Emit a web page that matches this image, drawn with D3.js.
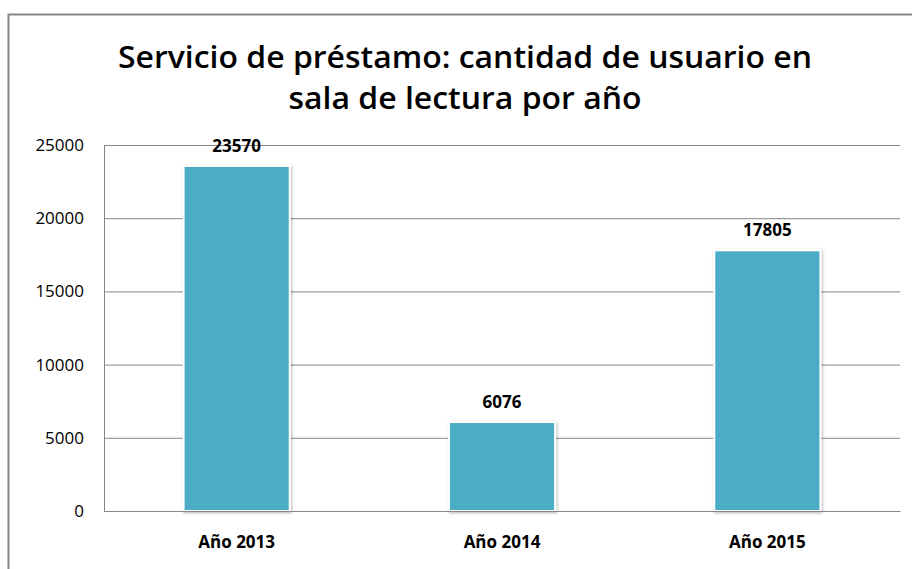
<!DOCTYPE html>
<html>
<head>
<meta charset="utf-8">
<script src="https://cdn.jsdelivr.net/npm/d3@7"></script>
<style>
  body { margin: 0; background: #fff; }
  svg { display: block; font-family: "Open Sans", "DejaVu Sans", sans-serif; }
</style>
</head>
<body>
<div id="chart"></div>
<script>
// data
const categories = ["Año 2013", "Año 2014", "Año 2015"];
const values = [23570, 6076, 17805];
const yTicks = [0, 5000, 10000, 15000, 20000, 25000];
const titleLines = ["Servicio de préstamo: cantidad de usuario en", "sala de lectura por año"];

let w = 912, h = 569;
let plot = { left: 104, right: 900, top: 145, bottom: 511 };
let fontFam = "'Open Sans', 'DejaVu Sans', sans-serif";

const svg = d3.select("#chart")
  .append("svg")
  .attr("width", w)
  .attr("height", h);

// outer chart border
svg.append("rect")
  .attr("x", 8.5).attr("y", 14.5)
  .attr("width", 920).attr("height", 600)
  .attr("fill", "#fff")
  .attr("stroke", "#868686")
  .attr("stroke-width", 2);

// title
let titleY = [68, 109];
let titleW = [694, 353];
titleLines.forEach((t, i) => {
  svg.append("text")
    .attr("x", 465)
    .attr("y", titleY[i])
    .attr("text-anchor", "middle")
    .attr("font-size", 31)
    .attr("font-weight", 600)
    .attr("fill", "#000")
    .attr("textLength", titleW[i])
    .attr("lengthAdjust", "spacingAndGlyphs")
    .text(t);
});

let xScale = d3.scaleBand()
  .domain(categories)
  .range([plot.left, plot.right])
  .paddingInner(0.6)
  .paddingOuter(0.3);

let yScale = d3.scaleLinear()
  .domain([0, 25000])
  .range([plot.bottom, plot.top]);

// gridlines
const yAxis = d3.axisLeft(yScale)
  .tickValues(yTicks)
  .tickFormat(d3.format("d"))
  .tickSize(-(plot.right - plot.left))
  .tickPadding(20);

const gy = svg.append("g")
  .attr("transform", "translate(" + plot.left + ",0)")
  .call(yAxis)
  .attr("font-family", fontFam)
  .attr("font-size", 17);
gy.select(".domain").attr("stroke", "#868686");
gy.selectAll(".tick line").attr("stroke", "#868686");
gy.selectAll(".tick text").attr("fill", "#000");

// bars with a light shadow
const defs = svg.append("defs");
const f = defs.append("filter").attr("id", "shadow")
  .attr("x", "-10%").attr("y", "-10%").attr("width", "120%").attr("height", "120%");
f.append("feDropShadow")
  .attr("dx", 1).attr("dy", 1).attr("stdDeviation", 1.5)
  .attr("flood-color", "#000").attr("flood-opacity", 0.3);

svg.selectAll("rect.bar")
  .data(values)
  .enter()
  .append("rect")
  .attr("class", "bar")
  .attr("x", (d, i) => xScale(categories[i]))
  .attr("y", d => yScale(d))
  .attr("width", xScale.bandwidth())
  .attr("height", d => yScale(0) - yScale(d))
  .attr("fill", "#4BACC6")
  .attr("stroke", "#fff")
  .attr("stroke-width", 2)
  .attr("filter", "url(#shadow)");

// value labels
svg.selectAll("text.val")
  .data(values)
  .enter()
  .append("text")
  .attr("class", "val")
  .attr("x", (d, i) => xScale(categories[i]) + xScale.bandwidth() / 2)
  .attr("y", d => yScale(d) - 14)
  .attr("text-anchor", "middle")
  .attr("font-size", 17)
  .attr("font-weight", "bold")
  .text(d => d);

// category labels
const xAxis = d3.axisBottom(xScale).tickSize(0).tickPadding(25);
const gx = svg.append("g")
  .attr("transform", "translate(0," + plot.bottom + ")")
  .call(xAxis)
  .attr("font-family", fontFam)
  .attr("font-size", 17)
  .attr("font-weight", "bold");
gx.select(".domain").attr("stroke", "#868686");
gx.selectAll(".tick text").attr("fill", "#000");
</script>
</body>
</html>
